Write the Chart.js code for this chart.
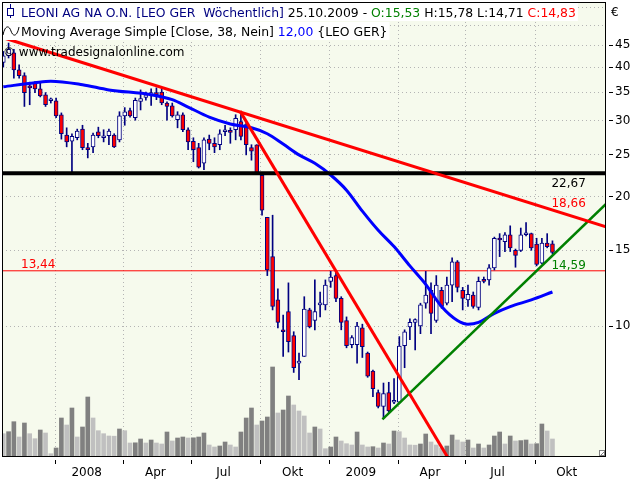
<!DOCTYPE html>
<html>
<head>
<meta charset="utf-8">
<script src="https://cdn.jsdelivr.net/npm/chart.js@4.4.1/dist/chart.umd.min.js"></script>
<style>
  html, body { margin: 0; padding: 0; background: #fff; }
</style>
</head>
<body>
<canvas id="leoChart" width="640" height="480"></canvas>
<script>
// LEONI AG weekly candles, week 0 = first visible week (late Oct 2007)
const opens = [41.0, 42.5, 43.2, 39.4, 38.2, 36.0, 36.7, 35.6, 34.5, 33.4,
  33.4, 31.0, 27.8, 26.9, 27.4, 28.7, 26.0, 26.1, 28.3, 27.4,
  27.7, 27.8, 27.1, 30.8, 31.7, 30.5, 33.3, 34.0, 34.3, 34.9,
  35.0, 33.0, 32.5, 30.2, 31.0, 28.6, 26.9, 26.0, 23.9, 27.2,
  26.6, 26.4, 28.3, 28.5, 28.6, 29.9, 29.4, 26.0, 26.4, 22.4,
  17.9, 14.5, 11.5, 9.8, 10.8, 9.5, 8.2, 8.5, 10.9, 10.3,
  11.2, 11.2, 12.7, 13.1, 11.6, 10.3, 9.05, 9.05, 9.9, 8.65,
  7.86, 7.0, 6.5, 7.0, 6.65, 6.65, 9.0, 9.95, 10.2, 10.0,
  11.3, 12.1, 10.3, 12.1, 11.3, 12.45, 14.1, 12.1, 11.5, 11.8,
  11.05, 12.8, 12.8, 13.65, 16.0, 15.7, 16.3, 15.0, 15.0, 16.3,
  16.4, 15.5, 14.0, 15.6, 15.53];
const highs = [43.5, 45.5, 44.0, 40.5, 38.8, 36.9, 37.0, 36.7, 34.9, 33.9,
  33.9, 31.3, 28.9, 28.0, 28.7, 29.3, 26.6, 28.1, 29.0, 28.6,
  28.7, 28.0, 31.5, 32.2, 32.1, 33.9, 35.4, 35.0, 35.6, 35.8,
  35.8, 33.2, 33.0, 31.5, 31.3, 28.9, 27.4, 26.6, 27.4, 27.8,
  27.4, 28.6, 29.3, 28.9, 31.0, 31.3, 29.8, 26.4, 26.4, 22.7,
  17.9, 18.1, 12.2, 10.6, 12.6, 9.7, 8.65, 11.7, 11.0, 12.8,
  12.0, 12.8, 13.4, 13.4, 11.7, 10.5, 9.5, 10.2, 10.1, 8.7,
  7.9, 7.1, 7.37, 7.4, 7.55, 9.45, 9.8, 10.4, 10.4, 11.3,
  13.4, 12.6, 13.1, 12.3, 13.0, 14.4, 14.2, 12.3, 12.45, 12.0,
  13.0, 13.0, 13.9, 16.1, 16.4, 16.5, 17.1, 15.1, 16.9, 17.4,
  16.45, 16.0, 16.0, 16.4, 15.78];
const lows = [40.0, 42.0, 37.7, 37.7, 32.4, 32.7, 34.9, 34.1, 32.4, 33.0,
  30.5, 27.2, 26.1, 22.8, 27.1, 25.7, 24.6, 25.3, 27.4, 26.8,
  26.4, 26.0, 26.8, 29.3, 30.6, 30.1, 31.8, 33.5, 32.6, 33.6,
  32.7, 30.1, 30.6, 28.9, 28.3, 25.7, 24.1, 23.3, 23.1, 25.7,
  25.3, 25.7, 27.7, 26.6, 27.1, 27.1, 25.0, 24.3, 22.5, 18.1,
  13.1, 10.9, 9.9, 8.5, 8.7, 7.8, 7.5, 8.5, 9.9, 9.8,
  10.5, 10.9, 12.3, 11.4, 9.8, 8.9, 8.9, 8.2, 8.45, 7.6,
  6.85, 6.45, 6.1, 6.3, 6.6, 6.6, 8.0, 9.3, 8.8, 9.6,
  11.0, 9.6, 10.2, 11.0, 11.2, 11.4, 12.0, 10.9, 11.1, 11.0,
  10.9, 12.6, 12.45, 13.5, 14.5, 14.9, 14.9, 13.7, 14.9, 16.2,
  15.0, 13.8, 13.95, 15.2, 14.71];
const closes = [42.5, 44.0, 39.4, 38.2, 34.9, 35.8, 35.6, 34.3, 32.7, 33.6,
  30.8, 28.0, 26.8, 27.6, 28.4, 26.0, 25.7, 27.8, 27.7, 27.6,
  28.4, 26.1, 30.8, 31.5, 30.8, 33.5, 33.8, 34.5, 34.9, 34.5,
  33.0, 32.4, 30.8, 31.0, 28.6, 26.8, 25.7, 23.4, 27.1, 26.6,
  26.1, 28.0, 28.6, 28.2, 30.4, 27.6, 26.4, 25.5, 22.7, 18.6,
  13.5, 11.1, 10.2, 9.7, 9.2, 8.0, 8.2, 10.95, 9.95, 10.8,
  11.2, 12.45, 13.0, 11.6, 10.2, 9.0, 9.4, 10.0, 8.95, 7.65,
  7.15, 6.5, 6.97, 6.35, 6.7, 8.98, 9.7, 10.2, 10.35, 11.2,
  11.8, 10.7, 12.45, 11.1, 12.45, 14.1, 12.3, 11.6, 11.85, 11.1,
  12.7, 12.7, 13.65, 16.0, 15.85, 16.3, 15.2, 14.6, 16.3, 16.4,
  15.2, 13.9, 15.6, 15.3, 14.83];
// weekly volume (relative units)
const volumes = [233, 253, 353, 200, 340, 233, 183, 270, 240, 33,
  90, 390, 320, 490, 200, 300, 600, 390, 263, 233,
  210, 208, 280, 263, 140, 142, 180, 140, 170, 140,
  130, 250, 160, 190, 200, 190, 192, 200, 240, 120,
  100, 110, 150, 120, 100, 250, 390, 490, 320, 360,
  400, 900, 440, 470, 610, 520, 460, 410, 240, 300,
  280, 83, 100, 200, 160, 133, 120, 250, 120, 100,
  103, 90, 140, 130, 260, 253, 190, 120, 118, 130,
  230, 150, 120, 90, 110, 220, 170, 150, 170, 90,
  130, 90, 120, 210, 250, 130, 210, 160, 164, 170,
  130, 133, 330, 260, 180];

// 38-week simple moving average
const maWeeks = [0, 6, 9, 15, 20, 28, 32, 35, 39, 43, 47, 50, 53, 56, 59,
  62, 65, 68, 71, 74, 77, 80, 83, 86, 88, 90, 93, 96, 100, 104];
const maValues = [36.0, 36.8, 37.1, 36.4, 35.4, 34.5, 33.6, 32.3, 30.6, 29.5, 28.9, 28.0, 26.5, 25.0, 23.9,
  22.45, 20.7, 18.5, 16.7, 15.3, 13.8, 12.5, 11.1, 10.3, 10.1, 10.2, 10.7, 11.1, 11.5, 12.0];

// quarter boundaries in week units, labels sit mid-quarter
const quarterStarts = [9.8, 22.8, 35.7, 48.8, 61.7, 74.8, 87.6, 100.7];
const quarterLabels = ['2008', 'Apr', 'Jul', 'Okt', '2009', 'Apr', 'Jul', 'Okt'];
const priceTicks = [10, 15, 20, 25, 30, 35, 40, 45, 50, 55];

// drawn lines: [week, price]
const resistance = 22.67;
const support = 13.44;
const trendDown = [[0, 46.8], [114.14, 17.0]];
const trendCrash = [[44.83, 31.6], [86, 4.54]];
const trendUp = [[71.8, 6.07], [114.14, 19.22]];
const trendDownValue = 18.66;
const trendUpValue = 14.59;

const X_MIN = -0.246, X_MAX = 114.14;
const navy = '#000080';
const weeks = opens.map((_, i) => i);
const last = weeks.length - 1;
const fmt = v => v.toFixed(2).replace('.', ',');

const xTickValues = [];
quarterStarts.forEach(q => { xTickValues.push(q, q + 6); });

Chart.defaults.font.family = "'DejaVu Sans', sans-serif";
Chart.defaults.font.size = 12;

function lineSet(points, color, width, order) {
  return {
    type: 'line',
    data: points.map(p => ({x: p[0], y: p[1]})),
    borderColor: color,
    borderWidth: width,
    pointRadius: 0,
    clip: 0,
    order: order
  };
}

const chartDecor = {
  id: 'chartDecor',
  beforeDraw(chart) {
    const {ctx, chartArea: a} = chart;
    ctx.save();
    ctx.fillStyle = '#fff';
    ctx.fillRect(0, 0, chart.width, chart.height);
    ctx.fillStyle = '#f6faed';
    ctx.fillRect(a.left, a.top, a.right - a.left, a.bottom - a.top);
    ctx.restore();
  },
  afterDatasetsDraw(chart) {
    const {ctx, scales: {x, y}} = chart;
    const lx = x.getPixelForValue(last) - 1;
    ctx.save();
    ctx.font = "12px 'DejaVu Sans'";
    ctx.textAlign = 'left';
    ctx.textBaseline = 'alphabetic';
    ctx.fillStyle = '#000';
    ctx.fillText(fmt(resistance), lx, y.getPixelForValue(resistance) + 14);
    ctx.fillStyle = '#ff0000';
    ctx.fillText(fmt(trendDownValue), lx, y.getPixelForValue(trendDownValue) - 3);
    ctx.fillStyle = '#008000';
    ctx.fillText(fmt(trendUpValue), lx, y.getPixelForValue(trendUpValue) + 14);
    ctx.fillStyle = '#ff0000';
    ctx.fillText(fmt(support), 21, y.getPixelForValue(support) - 3);
    ctx.restore();
  },
  afterDraw(chart) {
    const {ctx, chartArea: a} = chart;
    ctx.save();
    // frame
    ctx.strokeStyle = '#000';
    ctx.lineWidth = 1;
    ctx.strokeRect(a.left + 0.5, a.top + 0.5, a.right - a.left - 1, a.bottom - a.top - 1);
    // resize grip
    ctx.fillStyle = '#fff';
    ctx.fillRect(a.right - 7, a.bottom - 7, 6, 6);
    ctx.strokeStyle = '#808080';
    ctx.strokeRect(a.right - 6.5, a.bottom - 6.5, 5, 5);
    ctx.beginPath();
    ctx.moveTo(a.right - 5, a.bottom - 2);
    ctx.lineTo(a.right - 2, a.bottom - 5);
    ctx.stroke();

    ctx.font = "12.4px 'DejaVu Sans'";
    ctx.textBaseline = 'alphabetic';
    ctx.textAlign = 'left';
    const writeLine = (segs, x0, base, box) => {
      let w = 0;
      segs.forEach(s => { w += ctx.measureText(s[0]).width; });
      if (box) {
        ctx.fillStyle = '#fff';
        ctx.fillRect(3, base - 14, x0 + w - 1, 18);
      }
      let xx = x0;
      segs.forEach(s => {
        ctx.fillStyle = s[1];
        ctx.fillText(s[0], xx, base);
        xx += ctx.measureText(s[0]).width;
      });
    };
    writeLine([
      ['LEONI AG NA O.N. [LEO GER  Wöchentlich]', navy],
      [' 25.10.2009 - ', '#000'],
      ['O:' + fmt(opens[last]), '#008000'],
      [' H:' + fmt(highs[last]) + ' L:' + fmt(lows[last]) + ' ', '#000'],
      ['C:' + fmt(closes[last]), '#ff0000']
    ], 21, 17, true);
    writeLine([
      ['Moving Average Simple [Close, 38, Nein] ', '#000'],
      [fmt(maValues[maValues.length - 1]), '#0000ff'],
      [' {LEO GER}', '#000']
    ], 21, 36, true);
    ctx.font = "12px 'DejaVu Sans'";
    writeLine([['© www.tradesignalonline.com', '#000']], 3, 56, false);

    // candle icon
    ctx.strokeStyle = navy;
    ctx.beginPath();
    ctx.moveTo(10.5, 4); ctx.lineTo(10.5, 18);
    ctx.stroke();
    ctx.fillStyle = '#fff';
    ctx.fillRect(7.5, 8.5, 6, 7);
    ctx.strokeRect(7.5, 8.5, 6, 7);
    // wave icon
    ctx.strokeStyle = '#000';
    ctx.beginPath();
    ctx.moveTo(3, 35);
    ctx.bezierCurveTo(5, 25, 9, 25, 11, 31);
    ctx.bezierCurveTo(13, 37, 17, 37, 19, 27);
    ctx.stroke();

    ctx.fillStyle = '#000';
    ctx.fillText('€', 611, 16);
    ctx.restore();
  }
};

new Chart(document.getElementById('leoChart'), {
  type: 'line',
  data: {
    datasets: [
      lineSet(trendDown, '#ff0000', 3, 1),
      lineSet(trendCrash, '#ff0000', 3, 1),
      lineSet(trendUp, '#008000', 2.5, 2),
      lineSet([[X_MIN, resistance], [X_MAX, resistance]], '#000', 4, 3),
      {
        type: 'line',
        data: maWeeks.map((w, k) => ({x: w, y: maValues[k]})),
        borderColor: '#0000ff',
        borderWidth: 3,
        pointRadius: 0,
        cubicInterpolationMode: 'monotone',
        clip: 0,
        order: 4
      },
      {
        type: 'bar',
        data: weeks.map(i => ({x: i, y: [opens[i], closes[i]]})),
        backgroundColor: weeks.map(i => closes[i] < opens[i] ? '#ff0000' : '#ffffff'),
        borderColor: navy,
        borderWidth: 1,
        borderSkipped: false,
        barThickness: 4,
        minBarLength: 2,
        grouped: false,
        order: 5
      },
      {
        type: 'bar',
        data: weeks.map(i => ({x: i, y: [lows[i], highs[i]]})),
        backgroundColor: navy,
        barThickness: 1,
        grouped: false,
        order: 6
      },
      lineSet([[X_MIN, support], [X_MAX, support]], '#ff0000', 1, 7),
      {
        type: 'bar',
        yAxisID: 'yv',
        data: weeks.map(i => ({x: i, y: volumes[i]})),
        backgroundColor: weeks.map(i => i > 0 && volumes[i] > volumes[i - 1] ? '#808080' : '#c0c0c0'),
        barThickness: 4,
        grouped: false,
        order: 9
      }
    ]
  },
  options: {
    responsive: false,
    animation: false,
    events: [],
    layout: { padding: { left: 2, top: 2, right: 0, bottom: 0 } },
    plugins: { legend: { display: false }, tooltip: { enabled: false } },
    scales: {
      x: {
        type: 'linear',
        min: X_MIN,
        max: X_MAX,
        bounds: 'data',
        offset: false,
        afterBuildTicks: s => { s.ticks = xTickValues.map(v => ({value: v})); },
        afterFit: s => { s.height = 23; s.paddingLeft = 0; s.paddingRight = 0; },
        grid: {
          offset: false,
          color: c => c.index % 2 ? 'rgba(0,0,0,0)' : '#b4b4b4',
          tickColor: c => c.index % 2 ? 'rgba(0,0,0,0)' : '#000',
          tickLength: 7,
          tickBorderDash: [0, 3, 4, 20]
        },
        border: { display: false, dash: [1, 3] },
        ticks: {
          autoSkip: false,
          maxRotation: 0,
          minRotation: 0,
          padding: 2,
          color: '#000',
          callback: (v, i) => i % 2 ? quarterLabels[(i - 1) / 2] : ''
        }
      },
      y: {
        type: 'logarithmic',
        position: 'right',
        min: 4.96,
        max: 56.68,
        bounds: 'data',
        afterBuildTicks: s => { s.ticks = priceTicks.map(v => ({value: v})); },
        afterFit: s => { s.width = 34; s.paddingTop = 0; s.paddingBottom = 0; },
        grid: {
          color: '#b4b4b4',
          tickColor: c => c.tick && c.tick.value > 45 ? 'rgba(0,0,0,0)' : '#000',
          tickLength: 7,
          tickBorderDash: [0, 3, 4, 20]
        },
        border: { display: false, dash: [1, 3] },
        ticks: {
          padding: 2,
          color: '#000',
          callback: v => v > 45 ? '' : String(v)
        }
      },
      yv: { type: 'linear', display: false, min: 0, max: 4550 }
    }
  },
  plugins: [chartDecor]
});
</script>
</body>
</html>
